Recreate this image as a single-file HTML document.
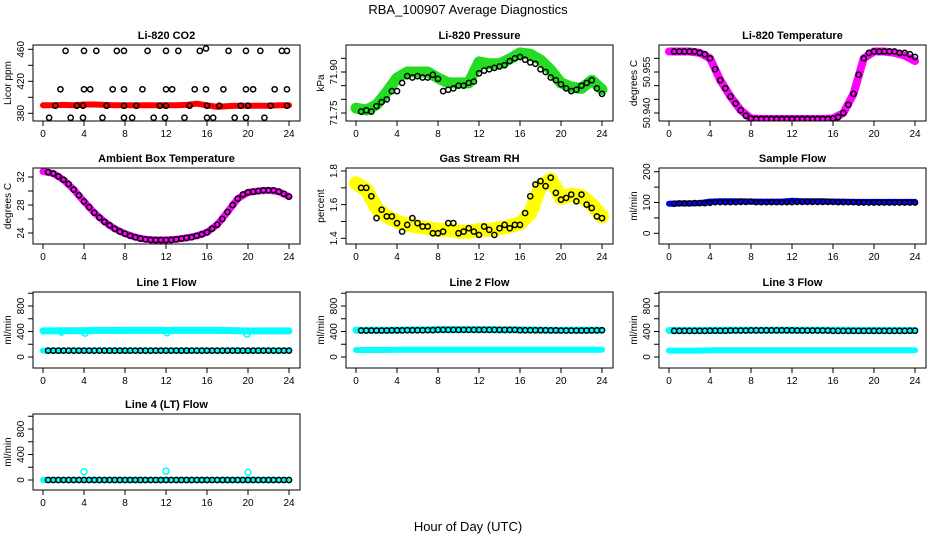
<!DOCTYPE html>
<html><head><meta charset="utf-8"><style>
body{margin:0;background:#fff}
svg{display:block;font-family:"Liberation Sans",sans-serif}
</style></head><body>
<svg id="chart" width="936" height="540" viewBox="0 0 936 540">
<text x="468" y="14" text-anchor="middle" font-size="13">RBA_100907  Average Diagnostics</text>
<text x="468" y="531" text-anchor="middle" font-size="13">Hour of Day (UTC)</text>
</svg>
<script>
const hourT=[0,1,2,3,4,5,6,7,8,9,10,11,12,13,14,15,16,17,18,19,20,21,22,23,24];
const blackT=[0.5,1,1.5,2,2.5,3,3.5,4,4.5,5,5.5,6,6.5,7,7.5,8,8.5,9,9.5,10,10.5,11,11.5,12,12.5,13,13.5,14,14.5,15,15.5,16,16.5,17,17.5,18,18.5,19,19.5,20,20.5,21,21.5,22,22.5,23,23.5,24];
const xTicks=[0,4,8,12,16,20,24];
// CO2
const co2Red=[390,390,390.5,390,391,391,390.5,390,390,390,390,390,390,390,390.5,392,390,388,389,389.5,389.5,389.5,389.5,390,390];
const co2T=[2.2,4.0,5.2,7.2,7.9,10.2,12.0,13.2,15.3,15.9,18.1,19.8,21.2,23.3,23.8,1.7,4.0,4.6,6.8,7.9,9.7,12.0,12.6,14.8,15.9,17.6,19.8,20.5,22.6,23.8,1.2,3.3,3.9,6.2,7.9,9.1,11.4,12.0,14.3,16.0,17.2,19.3,20.0,22.2,23.8,0.6,2.7,3.9,5.8,7.9,8.7,10.8,11.9,13.8,16.0,16.6,18.7,19.8,21.6];
const co2V=[458,458,458,458,458,458,458,458,458,461,458,458,458,458,458,410,410,410,410,410,410,410,410,410,410,410,410,410,410,410,389.5,389.5,389.5,389.5,389.5,389.5,389.5,389.5,389.5,389.5,389.5,389.5,389.5,389.5,389.5,374.5,374.5,374.5,374.5,374.5,374.5,374.5,374.5,374.5,374.5,374.5,374.5,374.5,374.5];
// Pressure
const presGreen=[71.768,71.761,71.78,71.827,71.878,71.9,71.9,71.9,71.878,71.86,71.86,71.86,71.937,71.93,71.93,71.948,71.97,71.965,71.944,71.907,71.86,71.845,71.84,71.87,71.836];
const presBlack=[71.755,71.76,71.755,71.775,71.79,71.80,71.83,71.83,71.86,71.885,71.88,71.885,71.88,71.88,71.89,71.875,71.83,71.835,71.84,71.85,71.85,71.86,71.865,71.895,71.905,71.91,71.915,71.92,71.925,71.94,71.95,71.955,71.945,71.935,71.93,71.91,71.90,71.88,71.87,71.855,71.84,71.83,71.835,71.85,71.86,71.87,71.84,71.82];
// Li-820 temperature
const tempMag=[50.9625,50.9625,50.9625,50.962,50.960,50.952,50.946,50.941,50.938,50.9378,50.9378,50.9378,50.9378,50.9378,50.9378,50.9378,50.938,50.940,50.947,50.960,50.9625,50.9625,50.962,50.961,50.959];
const tempBlack=[50.9625,50.9625,50.9625,50.9625,50.9625,50.9620,50.9615,50.9600,50.9560,50.9520,50.9490,50.9460,50.9435,50.9410,50.9390,50.9380,50.9378,50.9378,50.9378,50.9378,50.9378,50.9378,50.9378,50.9378,50.9378,50.9378,50.9378,50.9378,50.9378,50.9378,50.9378,50.9380,50.9385,50.9400,50.9430,50.9470,50.9540,50.9600,50.9620,50.9625,50.9625,50.9625,50.9625,50.9625,50.9620,50.9620,50.9615,50.9605];
// Ambient
const ambMag=[32.8,32.5,31.6,30.2,28.5,26.9,25.6,24.6,23.9,23.4,23.1,23.0,23.0,23.1,23.3,23.6,24.1,25.2,27.0,28.9,29.8,30.0,30.1,29.9,29.2];
const ambBlack=[32.7,32.5,32.1,31.6,31.0,30.2,29.4,28.5,27.7,26.9,26.2,25.6,25.1,24.6,24.2,23.9,23.6,23.4,23.2,23.1,23.0,23.0,23.0,23.0,23.0,23.1,23.2,23.3,23.4,23.6,23.8,24.1,24.6,25.2,26.0,27.0,28.0,28.9,29.5,29.8,29.9,30.0,30.1,30.1,30.1,29.9,29.6,29.2];
// RH
const rhYellow=[1.727,1.69,1.58,1.53,1.50,1.48,1.47,1.46,1.45,1.45,1.44,1.44,1.45,1.45,1.46,1.47,1.49,1.55,1.71,1.75,1.64,1.66,1.65,1.60,1.53];
const rhBlack=[1.70,1.70,1.65,1.52,1.57,1.53,1.53,1.49,1.44,1.48,1.52,1.49,1.47,1.47,1.43,1.43,1.44,1.49,1.49,1.43,1.44,1.46,1.44,1.42,1.47,1.45,1.42,1.46,1.48,1.46,1.48,1.48,1.55,1.65,1.72,1.74,1.71,1.76,1.67,1.63,1.64,1.66,1.62,1.66,1.60,1.58,1.53,1.52];
// Sample flow
const sampBlue=[96,97,97,98,103,104,104,104,103,103,103,103,106,104,104,104,103,103,102,102,102,102,102,102,102];
const sampBlack=[96,97,97,97,98,98,98,99,101,101,101,101,101,102,102,103,101,101,101,101,101,101,101,101,102,102,102,102,102,102,102,102,101,101,101,101,100,100,100,100,100,100,100,100,100,100,100,100];
// Line flows
const l1High=[410,410,412,412,412,415,415,415,418,418,418,418,418,418,418,418,418,418,415,412,408,410,410,410,410];
const l1Low=[100,100,100,100,100,100,100,100,100,100,100,100,100,100,100,100,100,100,100,100,100,100,100,100,100];
const l1Black=[100,100,100,100,100,100,100,100,100,100,100,100,100,100,100,100,100,100,100,100,100,100,100,100,100,100,100,100,100,100,100,100,100,100,100,100,100,100,100,100,100,100,100,100,100,100,100,100];
const l2High=[420,420,420,420,420,425,425,425,430,430,430,430,430,430,425,425,425,425,420,420,420,420,420,420,420];
const l2Low=[110,110,110,110,115,115,115,115,115,115,115,115,115,115,115,115,115,115,115,115,115,115,115,115,115];
const l2Black=[415,415,415,415,415,415,418,418,418,420,420,420,420,422,422,425,425,425,425,425,425,425,425,425,425,425,425,425,425,425,425,420,420,420,420,420,420,418,418,415,415,415,415,415,415,418,418,420];
const l3High=[415,415,415,415,415,420,420,420,420,420,420,420,420,420,420,420,420,420,415,415,415,415,415,415,415];
const l3Low=[100,100,100,100,105,105,105,105,105,105,105,105,105,105,105,105,105,105,105,105,105,105,105,105,105];
const l3Black=[410,410,410,410,410,410,410,412,412,412,412,415,415,415,415,418,418,418,418,418,418,418,418,418,415,415,415,415,415,415,415,410,410,410,410,410,410,410,410,410,410,410,410,410,410,410,412,412];
const l4Low=[0,0,0,0,0,0,0,0,0,0,0,0,0,0,0,0,0,0,0,0,0,0,0,0,0];
const l4Black=[0,0,0,0,0,0,0,0,0,0,0,0,0,0,0,0,0,0,0,0,0,0,0,0,0,0,0,0,0,0,0,0,0,0,0,0,0,0,0,0,0,0,0,0,0,0,0,0];
const l4OutT=[4,12,20];
const l4OutV=[130,140,120];
const l1OutT=[1.8,4.1,12.1,19.9];
const l1OutV=[390,375,380,360];

const NS="http://www.w3.org/2000/svg";
const svg=document.getElementById('chart');
function mk(tag,attrs,parent){const e=document.createElementNS(NS,tag);for(const k in attrs)e.setAttribute(k,attrs[k]);(parent||svg).appendChild(e);return e;}

const panels=[
 {id:'co2',title:'Li-820 CO2',ylab:'Licor ppm',left:33,top:45,v1:380,p1:113.3,v2:460,p2:49.3,ticks:[380,400,420,440,460],labels:['380','','420','','460'],
  series:[{t:hourT,v:co2Red,c:'#ff0000',w:6}],black:[{t:co2T,v:co2V}]},
 {id:'pressure',title:'Li-820 Pressure',ylab:'kPa',left:346,top:45,v1:71.75,p1:113,v2:71.90,p2:72,ticks:[71.75,71.80,71.85,71.90,71.95],labels:['71.75','','','71.90',''],
  series:[{t:hourT,v:presGreen,c:'#22dd22',w:11}],black:[{t:blackT,v:presBlack}]},
 {id:'li820-temp',title:'Li-820 Temperature',ylab:'degrees C',left:659,top:45,v1:50.940,p1:113,v2:50.955,p2:72,ticks:[50.940,50.945,50.950,50.955,50.960],labels:['50.940','','','50.955',''],
  series:[{t:hourT,v:tempMag,c:'#ff00ff',w:8}],black:[{t:blackT,v:tempBlack}]},
 {id:'ambient',title:'Ambient Box Temperature',ylab:'degrees C',left:33,top:168,v1:24,p1:233,v2:32,p2:177,ticks:[24,26,28,30,32],labels:['24','','28','','32'],
  series:[{t:hourT,v:ambMag,c:'#ff00ff',w:7}],black:[{t:blackT,v:ambBlack}]},
 {id:'rh',title:'Gas Stream RH',ylab:'percent',left:346,top:168,v1:1.4,p1:238.3,v2:1.8,p2:171,ticks:[1.4,1.5,1.6,1.7,1.8],labels:['1.4','','1.6','','1.8'],
  series:[{t:hourT,v:rhYellow,c:'#ffff00',w:14}],black:[{t:blackT,v:rhBlack}]},
 {id:'sample-flow',title:'Sample Flow',ylab:'ml/min',left:659,top:168,v1:0,p1:233.3,v2:200,p2:171.7,ticks:[0,50,100,150,200],labels:['0','','100','','200'],
  series:[{t:hourT,v:sampBlue,c:'#0000ff',w:6}],black:[{t:blackT,v:sampBlack}]},
 {id:'line1',title:'Line 1 Flow',ylab:'ml/min',left:33,top:292,v1:0,p1:357,v2:800,p2:306,ticks:[0,200,400,600,800,1000],labels:['0','','400','','800',''],
  series:[{t:hourT,v:l1High,c:'#00ffff',w:7},{t:hourT,v:l1Low,c:'#00ffff',w:6}],black:[{t:blackT,v:l1Black}],out:{t:l1OutT,v:l1OutV}},
 {id:'line2',title:'Line 2 Flow',ylab:'ml/min',left:346,top:292,v1:0,p1:357,v2:800,p2:306,ticks:[0,200,400,600,800,1000],labels:['0','','400','','800',''],
  series:[{t:hourT,v:l2High,c:'#00ffff',w:7},{t:hourT,v:l2Low,c:'#00ffff',w:6}],black:[{t:blackT,v:l2Black}]},
 {id:'line3',title:'Line 3 Flow',ylab:'ml/min',left:659,top:292,v1:0,p1:357,v2:800,p2:306,ticks:[0,200,400,600,800,1000],labels:['0','','400','','800',''],
  series:[{t:hourT,v:l3High,c:'#00ffff',w:7},{t:hourT,v:l3Low,c:'#00ffff',w:6}],black:[{t:blackT,v:l3Black}]},
 {id:'line4',title:'Line 4 (LT) Flow',ylab:'ml/min',left:33,top:414,v1:0,p1:480,v2:800,p2:429,ticks:[0,200,400,600,800,1000],labels:['0','','400','','800',''],
  series:[{t:hourT,v:l4Low,c:'#00ffff',w:6}],black:[{t:blackT,v:l4Black}],out:{t:l4OutT,v:l4OutV}}
];

const W=267,H=76,PXH=10.25;
panels.forEach(p=>{
  const g=mk('g',{});
  
  
  const xs=h=>p.left+10+h*PXH;
  const ys=v=>p.p1+(v-p.v1)*(p.p2-p.p1)/(p.v2-p.v1);
  const cp=mk('clipPath',{id:'clip-'+p.id},g);
  mk('rect',{x:p.left,y:p.top,width:W,height:H},cp);
  const dg=mk('g',{'clip-path':'url(#clip-'+p.id+')'},g);
  p.series.forEach(s=>{
    const pts=s.t.map((t,i)=>xs(t).toFixed(1)+','+ys(s.v[i]).toFixed(1)).join(' ');
    const pl=mk('polyline',{points:pts,fill:'none',stroke:s.c,'stroke-width':s.w,'stroke-linejoin':'round','stroke-linecap':'round'},dg);
    
    
  });
  if(p.out){p.out.t.forEach((t,i)=>{
    const c=mk('circle',{cx:xs(t),cy:ys(p.out.v[i]),r:3,fill:'none',stroke:'#00ffff','stroke-width':1.5},dg);
    
    
  });}
  p.black.forEach(b=>{b.v.forEach((v,i)=>{
    const c=mk('circle',{cx:xs(b.t[i]),cy:ys(v),r:2.6,fill:'none',stroke:'#000','stroke-width':1.5},dg);
    
    
  });});
  const box=mk('rect',{x:p.left,y:p.top,width:W,height:H,fill:'none',stroke:'#000','stroke-width':1},g);
  
  
  const tt=mk('text',{x:p.left+W/2,y:p.top-6,'text-anchor':'middle','font-size':11,'font-weight':'bold'},g);
  tt.textContent=p.title;
  
  
  const by=p.top+H;
  xTicks.forEach(h=>{
    mk('line',{x1:xs(h),x2:xs(h),y1:by,y2:by+5,stroke:'#000'},g);
    const t=mk('text',{x:xs(h),y:by+16,'text-anchor':'middle','font-size':10},g);
    t.textContent=h;
    
    
  });
  mk('line',{x1:xs(0),x2:xs(24),y1:by+0.5,y2:by+0.5,stroke:'#000','stroke-width':0}, g);
  p.ticks.forEach((v,i)=>{
    const y=ys(v);
    mk('line',{x1:p.left-5,x2:p.left,y1:y,y2:y,stroke:'#000'},g);
    if(p.labels[i]){
      const t=mk('text',{x:p.left-9,y:y,'text-anchor':'middle','font-size':10,transform:'rotate(-90 '+(p.left-9)+' '+y+')'},g);
      t.textContent=p.labels[i];
      
      
    }
  });
  const yl=mk('text',{x:p.left-22,y:p.top+H/2,'text-anchor':'middle','font-size':10,transform:'rotate(-90 '+(p.left-22)+' '+(p.top+H/2)+')'},g);
  yl.textContent=p.ylab;
  
  
});
</script>
</body></html>
